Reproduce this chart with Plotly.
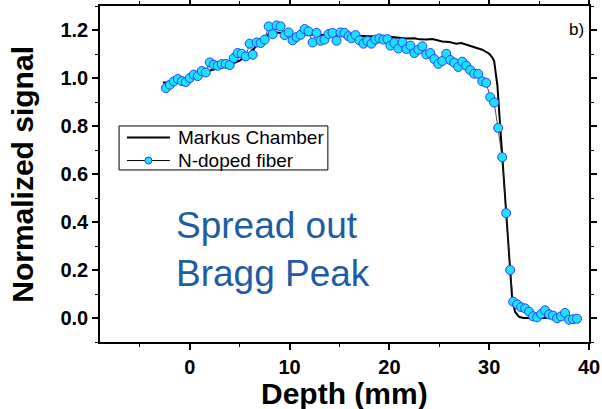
import plotly.graph_objects as go

# Markus chamber reference depth-dose curve
markus_depth = [-2.7, -2.0, -1.0, 0.0, 1.0, 1.7, 3.0, 4.0, 5.0, 5.7, 6.7, 7.3, 8.0, 8.7,
                10.0, 11.5, 13.0, 14.5, 16.0, 18.0, 20.0, 21.0, 21.7, 22.5, 23.0, 23.7,
                24.3, 25.0, 25.3, 26.0, 26.7, 27.2, 28.0, 28.5, 29.3, 30.0, 30.3, 30.5,
                30.67, 30.83, 31.0, 31.17, 31.3, 31.67, 32.07, 32.3, 32.6, 33.0, 33.4,
                35.0, 37.0, 38.3]
markus_signal = [0.981, 0.981, 0.986, 0.995, 1.012, 1.027, 1.043, 1.055, 1.072, 1.093,
                 1.134, 1.160, 1.187, 1.190, 1.183, 1.181, 1.180, 1.178, 1.176, 1.174,
                 1.172, 1.168, 1.165, 1.166, 1.161, 1.160, 1.162, 1.155, 1.152, 1.150,
                 1.143, 1.146, 1.135, 1.130, 1.118, 1.101, 1.086, 1.070, 1.021, 0.965,
                 0.860, 0.756, 0.680, 0.440, 0.200, 0.080, 0.025, 0.005, 0.0, 0.0, 0.0, 0.0]

# N-doped optical fiber readings
fiber_depth = [-2.4, -2.0, -1.6, -1.2, -0.8, -0.4, 0.0, 0.4, 0.8, 1.2, 1.6, 2.0, 2.4, 2.8,
               3.2, 3.6, 4.0, 4.4, 4.8, 5.2, 5.6, 6.0, 6.3, 6.7, 7.1, 7.5, 7.9, 8.3, 8.7,
               9.1, 9.5, 9.9, 10.3, 10.7, 11.1, 11.5, 11.9, 12.3, 12.7, 13.1, 13.5, 13.9,
               14.3, 14.7, 15.1, 15.5, 15.9,
               16.2, 16.6, 17.0, 17.4, 17.8, 18.2, 18.6, 19.0, 19.4, 19.8,
               20.1, 20.5, 20.9, 21.3, 21.7, 22.1, 22.5, 22.9, 23.3, 23.7,
               24.1, 24.5, 24.9, 25.3, 25.7, 26.1, 26.5, 26.9, 27.3, 27.7,
               28.1, 28.5, 28.9, 29.3, 29.7, 30.1, 30.5, 30.9, 31.3, 31.7,
               32.1, 32.4, 32.8, 33.2, 33.6, 34.0, 34.4, 34.8, 35.2, 35.6,
               36.0, 36.4, 36.8, 37.2, 37.6, 38.0, 38.4, 38.8]
fiber_signal = [0.958, 0.972, 0.986, 0.996, 0.987, 0.983, 1.000, 1.014, 1.008, 1.029,
                1.023, 1.065, 1.055, 1.051, 1.058, 1.059, 1.054, 1.083, 1.104, 1.101,
                1.090, 1.143, 1.097, 1.148, 1.146, 1.160, 1.215, 1.183, 1.219, 1.215,
                1.179, 1.190, 1.157, 1.171, 1.180, 1.204, 1.194, 1.148, 1.188, 1.155,
                1.160, 1.183, 1.188, 1.155, 1.190, 1.188, 1.174,
                1.166, 1.179, 1.157, 1.143, 1.154, 1.143, 1.160, 1.165, 1.160, 1.162,
                1.135, 1.146, 1.123, 1.148, 1.121, 1.135, 1.104, 1.118, 1.132, 1.098,
                1.104, 1.079, 1.059, 1.071, 1.101, 1.075, 1.064, 1.046, 1.068, 1.051,
                1.033, 1.018, 1.017, 0.986, 0.980, 0.920, 0.898, 0.792, 0.670, 0.437,
                0.200, 0.068, 0.057, 0.045, 0.040, 0.026, 0.007, 0.003, 0.017, 0.032,
                0.015, 0.010, -0.001, 0.007, 0.021, -0.007, -0.005, -0.003]

x_ticks = [0, 10, 20, 30, 40]
y_ticks = [0.0, 0.2, 0.4, 0.6, 0.8, 1.0, 1.2]
legend_labels = ["Markus Chamber", "N-doped fiber"]

FONT = "Liberation Sans, Arial, sans-serif"
MARKER_FILL = "#19e3ff"
MARKER_EDGE = "#2b3fff"

fig = go.Figure()
fig.add_trace(go.Scatter(
    x=markus_depth, y=markus_signal, mode="lines", name=legend_labels[0],
    line=dict(color="black", width=2),
))
fig.add_trace(go.Scatter(
    x=fiber_depth, y=fiber_signal, mode="lines+markers", name=legend_labels[1],
    line=dict(color="#222222", width=0.8),
    marker=dict(size=9, color=MARKER_FILL, line=dict(color=MARKER_EDGE, width=1)),
))

axis_common = dict(
    showline=True, linecolor="black", linewidth=1.5, mirror="allticks",
    ticks="outside", ticklen=6, tickwidth=1.5, tickcolor="black",
    showgrid=False, zeroline=False, automargin=False,
    tickfont=dict(family=FONT, size=20, color="black", weight="bold"),
)

fig.update_xaxes(
    range=[-9, 40], tickvals=x_ticks,
    minor=dict(dtick=5, tick0=0, ticks="outside", ticklen=3, tickwidth=1.2, tickcolor="black"),
    **axis_common,
)
fig.update_yaxes(
    range=[-0.1, 1.3], tickvals=y_ticks, tickformat=".1f",
    minor=dict(dtick=0.1, tick0=0, ticks="outside", ticklen=3, tickwidth=1.2, tickcolor="black"),
    **axis_common,
)

# Framed legend box with line / marker samples
legend_box = dict(x0=0.039, x1=0.466, y0=0.512, y1=0.643)
row_y = [0.609, 0.540]
sample_x = (0.055, 0.143)
shapes = [
    dict(type="rect", xref="paper", yref="paper", line=dict(color="black", width=1),
         fillcolor="white", layer="above", **legend_box),
    dict(type="line", xref="paper", yref="paper", x0=sample_x[0], x1=sample_x[1],
         y0=row_y[0], y1=row_y[0], line=dict(color="black", width=2), layer="above"),
    dict(type="line", xref="paper", yref="paper", x0=sample_x[0], x1=sample_x[1],
         y0=row_y[1], y1=row_y[1], line=dict(color="black", width=1), layer="above"),
    dict(type="circle", xref="paper", yref="paper", xsizemode="pixel", ysizemode="pixel",
         xanchor=(sample_x[0] + sample_x[1]) / 2, yanchor=row_y[1],
         x0=-3.5, x1=3.5, y0=-3.5, y1=3.5,
         fillcolor=MARKER_FILL, line=dict(color=MARKER_EDGE, width=1), layer="above"),
]

legend_text = [
    dict(text=lbl, xref="paper", yref="paper", x=0.155, y=yy,
         xanchor="left", yanchor="middle", showarrow=False,
         font=dict(family=FONT, size=19, color="black"))
    for lbl, yy in zip(legend_labels, row_y)
]

fig.update_layout(
    width=602, height=409,
    margin=dict(l=100, r=13, t=6, b=67),
    paper_bgcolor="white", plot_bgcolor="white",
    font=dict(family=FONT, color="black"),
    showlegend=False,
    shapes=shapes,
    annotations=legend_text + [
        dict(text="Normalized signal", xref="paper", yref="paper",
             x=-0.16, y=0.5, xanchor="center", yanchor="middle",
             textangle=-90, showarrow=False,
             font=dict(family=FONT, size=30, color="black", weight="bold")),
        dict(text="Depth (mm)", xref="paper", yref="paper",
             x=0.5, y=-0.152, xanchor="center", yanchor="middle",
             showarrow=False,
             font=dict(family=FONT, size=30, color="black", weight="bold")),
        dict(text="Spread out<br>Bragg Peak", xref="x", yref="y",
             x=-1.6, y=0.284, xanchor="left", yanchor="middle", align="left",
             showarrow=False,
             font=dict(family=FONT, size=37, color="#1f5ca6")),
        dict(text="b)", xref="paper", yref="paper",
             x=0.993, y=0.93, xanchor="right", yanchor="middle",
             showarrow=False,
             font=dict(family=FONT, size=17, color="black")),
    ],
)

fig.write_html("out.html")
